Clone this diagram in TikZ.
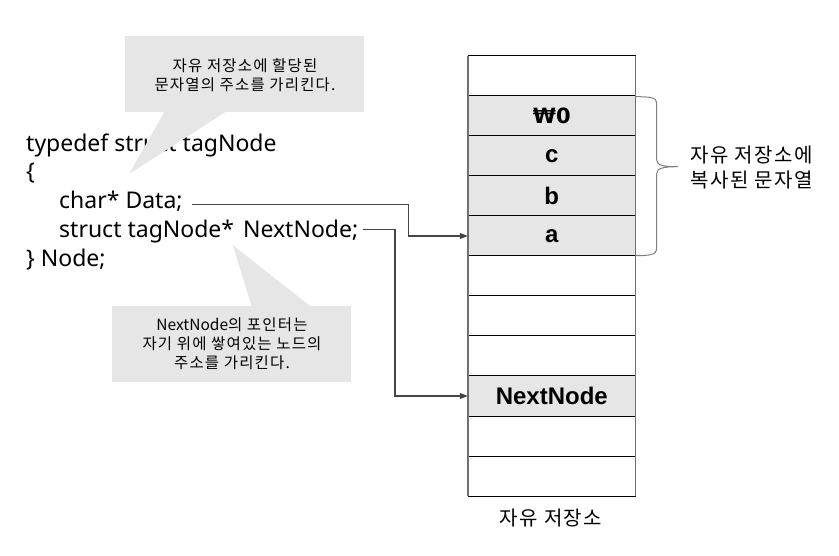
\documentclass[tikz,border=0pt]{standalone}
\usepackage{fontspec}
\setmainfont{Noto Sans}
\newfontfamily\kr{Noto Sans CJK KR}[LetterSpace=7.5]
\newfontfamily\krn{Noto Sans CJK KR}
\newfontfamily\cellf{Liberation Sans}
\newfontfamily\wonf{DejaVu Sans}
\usetikzlibrary{arrows.meta}
\definecolor{boxgray}{HTML}{E6E6E6}
\definecolor{linegray}{HTML}{454545}
\definecolor{edgegray}{HTML}{707070}
\definecolor{bracegray}{HTML}{808080}
\begin{document}
\begin{tikzpicture}[x=1pt,y=-1pt,
  code/.style={anchor=base west,inner sep=0pt,font=\fontsize{23}{27}\selectfont},
  cell/.style={minimum width=167.6pt,minimum height=40pt,inner sep=0pt,font=\cellf\fontsize{24}{27}\selectfont\bfseries},
  filled/.style={fill=boxgray},
  calltext/.style={align=center,inner sep=0pt,font=\kr\fontsize{15.5}{19}\selectfont},
  label/.style={inner sep=0pt,font=\kr\fontsize{20}{25}\selectfont},
  connline/.style={draw=linegray,line width=1.1pt,-{Triangle[length=8pt,width=6pt]}},
]
\useasboundingbox (0,0) rectangle (839,556);
% code
\node[code] (l1) at (26,151.7) {typedef struct tagNode};
\node[code] (l2) at (26,180) {\{};
\node[code] (data) at (59,208.3) {char* Data;};
\node[code] (next) at (59,237.7) {struct tagNode*\hspace{3pt} NextNode;};
\node[code] (l5) at (26,266.7) {\} Node;};
% stack cells
\foreach \i in {0,...,10} {
  \node[cell] (cell\i) at (551.8,{76+40*\i}) {};
}
\node[cell,filled] (c1) at (cell1) {{\wonf\fontsize{21}{25}\selectfont\bfseries ₩0}};
\node[cell,filled] (c2) at (cell2) {c};
\node[cell,filled] (c3) at (cell3) {b};
\node[cell,filled] (c4) at (cell4) {a};
\node[cell,filled] (c8) at (cell8) {NextNode};
\foreach \i in {0,...,11} {
  \draw[black,line width=1pt] (468,{56+40*\i}) -- (635.6,{56+40*\i});
}
\draw[edgegray,line width=1.3pt] (468,56) -- (468,496);
\draw[edgegray,line width=1.3pt] (635.6,56) -- (635.6,496);
\node[label] (heap) at (551,518) {자유 저장소};
% brace
\draw[bracegray,line width=1pt] (635.6,96.7) .. controls (650,96.7) and (656.7,97.5) .. (656.7,103)
  -- (656.7,160) .. controls (656.7,165.5) and (664,166.7) .. (678,166.7)
  .. controls (664,166.7) and (656.7,168) .. (656.7,173.5)
  -- (656.7,249) .. controls (656.7,254.5) and (650,255.7) .. (635.6,255.7);
\node[label,anchor=west,align=left] (copied) at (690,167.5) {자유 저장소에\\복사된 문자열};
% connectors
\coordinate (dstart) at (192,204.3);
\coordinate (dbend) at (408.3,204.3);
\draw[connline] (dstart) -- (dbend) |- (c4.west);
\coordinate (nstart) at (363,229.5);
\coordinate (nbend) at (395,229.5);
\draw[connline] (nstart) -- (nbend) |- (c8.west);
% callout 1
\fill[boxgray] (125,36) rectangle (364,111.7);
\fill[boxgray] (165,111) -- (129,174) -- (227,111) -- cycle;
\node[calltext] (call1) at (245,75.5) {자유 저장소에 할당된\\문자열의 주소를 가리킨다.};
% callout 2
\fill[boxgray] (112,306) rectangle (351,381.7);
\fill[boxgray] (251.7,306.5) -- (232.7,245) -- (310.7,306.5) -- cycle;
\node[calltext] (call2) at (232,344) {{\krn NextNode}의 포인터는\\자기 위에 쌓여있는 노드의\\주소를 가리킨다.};
\end{tikzpicture}
\end{document}
